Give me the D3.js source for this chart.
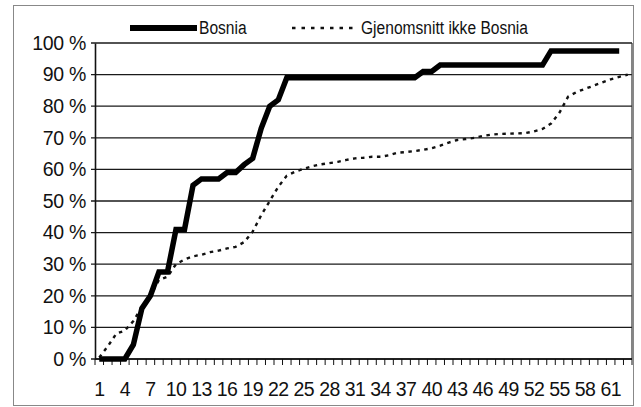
<!DOCTYPE html>
<html><head><meta charset="utf-8">
<script src="https://cdn.jsdelivr.net/npm/d3@7"></script>
<style>
html,body{margin:0;padding:0;background:#fff;}
text{font-family:"Liberation Sans",Arial,Helvetica,sans-serif;fill:#111;}
</style></head>
<body><svg id="c" width="641" height="407"></svg>
<script>
const categories = d3.range(1, 64);
const bosnia = [0,0,0,0,4.5,16,20,27.5,27.5,41,41,55,57,57,57,59,59,61.5,63.5,73,80,82,89,
  89,89,89,89,89,89,89,89,89,89,89,89,89,89,89,91,91,93,93,93,93,93,93,93,93,93,93,93,93,93,
  97.5,97.5,97.5,97.5,97.5,97.5,97.5,97.5,97.5];
const average = [0.5,4,8,9,12,16.5,20,25,26,30,31.5,32.5,33,33.8,34.3,35,35.5,37,40.3,45.5,50,54.5,58,
  59.3,60.2,61,61.6,62,62.4,63,63.5,63.7,64,64,64.5,65.3,65.5,65.8,66.2,66.7,67.5,68.5,69.3,69.6,70,
  70.6,71,71.2,71.3,71.4,71.5,72,72.8,74.5,78,83,84.5,85.5,86.5,87.5,88.5,89.3,90];
const yTicks = d3.range(0, 101, 10);
const seriesNames = ["Bosnia", "Gjenomsnitt ikke Bosnia"];

const svg = d3.select("#c");
const L = 95, R = 632, T = 43, B = 359;

// outer frame
svg.append("rect").attr("x",13.5).attr("y",5.5).attr("width",620).attr("height",400)
  .attr("fill","none").attr("stroke","#888").attr("stroke-width",1);

const x = d3.scaleBand().domain(categories).range([L, R]).paddingInner(0).paddingOuter(0);
const y = d3.scaleLinear().domain([0, 100]).range([B, T]);
const cx = d => x(d) + x.bandwidth()/2;

// gridlines
svg.append("g").selectAll("line").data(yTicks).join("line")
  .attr("x1", L-4).attr("x2", R).attr("y1", d=>y(d)).attr("y2", d=>y(d))
  .attr("stroke","#1a1a1a").attr("stroke-width",1.3);

// right border
svg.append("line").attr("x1",R).attr("x2",R).attr("y1",T).attr("y2",B)
  .attr("stroke","#333").attr("stroke-width",1.2);

// y axis
const ya = svg.append("g").attr("transform",`translate(${L},0)`)
  .call(d3.axisLeft(y).tickValues(yTicks).tickSize(0).tickPadding(9).tickFormat(d => d + " %"));
ya.select(".domain").attr("stroke","#111").attr("stroke-width",1.6);
ya.selectAll("text").attr("font-size",19.5).attr("fill","#111")
  .attr("font-family",'"Liberation Sans",Arial,sans-serif').attr("letter-spacing","-0.3");

// x axis: ticks at band boundaries
const bounds = categories.map(c => x(c)).concat([R]);
svg.append("g").selectAll("line").data(bounds).join("line")
  .attr("x1", d=>d).attr("x2", d=>d).attr("y1", B).attr("y2", B+6)
  .attr("stroke","#111").attr("stroke-width",1);
svg.append("line").attr("x1",L).attr("x2",R).attr("y1",B).attr("y2",B)
  .attr("stroke","#111").attr("stroke-width",1.6);
const labelCats = categories.filter(c => (c-1) % 3 === 0);
const xa = svg.append("g").attr("transform",`translate(0,${B})`)
  .call(d3.axisBottom(x).tickValues(labelCats).tickSize(0).tickPadding(23));
xa.select(".domain").remove();
xa.selectAll("text").attr("font-size",19.5).attr("fill","#111")
  .attr("font-family",'"Liberation Sans",Arial,sans-serif').attr("letter-spacing","-0.6");

// lines
const line = vals => d3.line().x((d,i)=>cx(categories[i])).y(d=>y(d))(vals);
svg.append("path").attr("d", line(average)).attr("fill","none")
  .attr("stroke","#111").attr("stroke-width",2.4).attr("stroke-dasharray","3.5,4.5");
svg.append("path").attr("d", line(bosnia)).attr("fill","none")
  .attr("stroke","#000").attr("stroke-width",5.5).attr("stroke-linejoin","miter");

// legend
const lg = svg.append("g");
lg.append("line").attr("x1",130).attr("x2",197).attr("y1",28).attr("y2",28)
  .attr("stroke","#000").attr("stroke-width",6);
lg.append("line").attr("x1",292).attr("x2",358).attr("y1",28).attr("y2",28)
  .attr("stroke","#111").attr("stroke-width",2.4).attr("stroke-dasharray","3.5,6");
const sx = 0.82;
lg.append("text").attr("transform",`translate(199,34) scale(${sx},1)`)
  .attr("font-size",19).text(seriesNames[0]);
lg.append("text").attr("transform",`translate(361,34) scale(${sx},1)`)
  .attr("font-size",19).text(seriesNames[1]);
</script></body></html>
